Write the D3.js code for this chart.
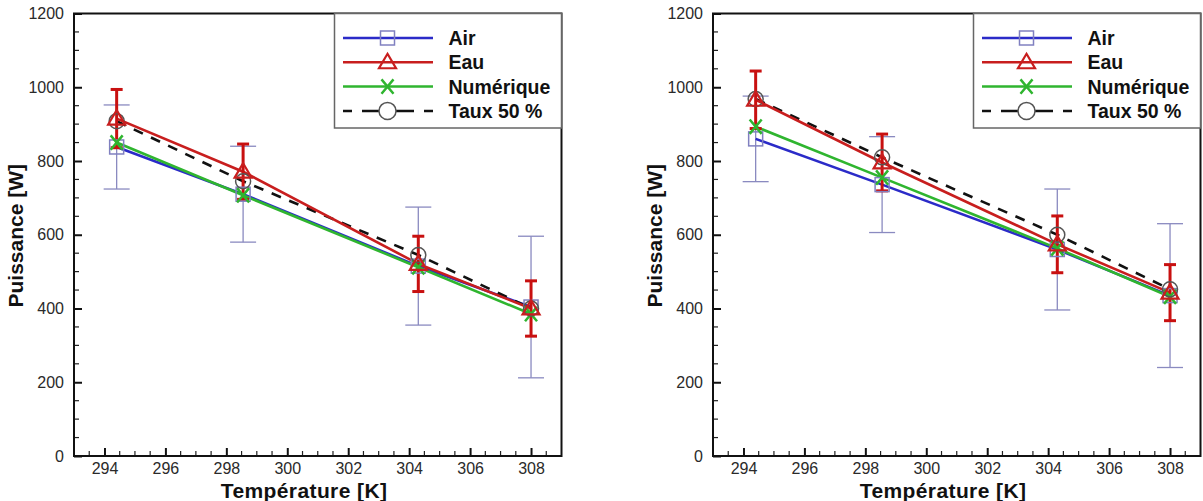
<!DOCTYPE html>
<html><head><meta charset="utf-8">
<script src="https://cdn.jsdelivr.net/npm/d3@7/dist/d3.min.js"></script>
<style>
html,body{margin:0;padding:0;background:#fff;}
svg{display:block;font-family:"Liberation Sans",Arial,sans-serif;}
</style></head>
<body><svg id="c" width="1203" height="501"></svg>
<script>
// ---- data ----
const temps = [294.4, 298.55, 304.3, 308.0];
const seriesNames = ["Air", "Eau", "Numérique", "Taux 50 %"];
const xTicks = [294, 296, 298, 300, 302, 304, 306, 308];
const yTicks = [0, 200, 400, 600, 800, 1000, 1200];

// left panel
const airL  = [838, 710, 515, 404];
const airErrL = [114, 130, 160, 192];
const eauL  = [915, 771, 521, 400];
const eauErrL = [79, 75, 75, 75];
const numL  = [850, 707, 512, 385];
const tauxL = [908, 745, 545, 400];

// right panel
const airR  = [860, 736, 560, 435];
const airErrR = [116, 130, 164, 195];
const eauR  = [966, 796, 574, 443];
const eauErrR = [78, 77, 77, 76];
const numR  = [893, 755, 563, 432];
const tauxR = [968, 810, 600, 452];

const svg = d3.select("#c");
svg.append("rect").attr("width",1203).attr("height",501).attr("fill","#fff");

const COL = {air:"#2b2bc8", airMk:"#8080c0", eau:"#c81e1e", num:"#2fb52f", taux:"#111", tauxMk:"#555"};

function panel(left, air, airErr, eau, eauErr, num, taux){
  const top = 13.5, width = 487.5, height = 442.5;
  const g = svg.append("g").attr("transform", `translate(${left},${top})`);
  const x = d3.scaleLinear().domain([293, 309]).range([0, width]);
  const y = d3.scaleLinear().domain([0, 1200]).range([height, 0]);

  // minor ticks
  const xMinor = d3.range(293.5, 309, 0.5).filter(v => Math.abs(v/2 - Math.round(v/2)) > 1e-6);
  const yMinor = d3.range(50, 1200, 50).filter(v => v % 200 !== 0);
  g.append("g").selectAll("line").data(xMinor).join("line")
    .attr("x1", d=>x(d)).attr("x2", d=>x(d)).attr("y1", height).attr("y2", height-5)
    .attr("stroke","#222").attr("stroke-width",1.2);
  g.append("g").selectAll("line").data(yMinor).join("line")
    .attr("x1", 0).attr("x2", 5).attr("y1", d=>y(d)).attr("y2", d=>y(d))
    .attr("stroke","#222").attr("stroke-width",1.2);

  // axes
  const xAxis = d3.axisBottom(x).tickValues(xTicks).tickFormat(d3.format("d")).tickSizeInner(-8).tickSizeOuter(0).tickPadding(7);
  const yAxis = d3.axisLeft(y).tickValues(yTicks).tickFormat(d3.format("d")).tickSizeInner(-8).tickSizeOuter(0).tickPadding(10);
  const gx = g.append("g").attr("transform", `translate(0,${height})`).call(xAxis);
  const gy = g.append("g").call(yAxis);
  [gx, gy].forEach(a => {
    a.select(".domain").remove();
    a.selectAll(".tick line").attr("stroke","#111").attr("stroke-width",2);
    a.selectAll(".tick text").attr("font-size",16).attr("fill","#2a2a2a")
      .attr("font-family",'"Liberation Sans",Arial,sans-serif');
  });
  gx.selectAll(".tick text").attr("dy","0.71em");

  // frame
  g.append("rect").attr("x",0).attr("y",0).attr("width",width).attr("height",height)
    .attr("fill","none").attr("stroke","#111").attr("stroke-width",2);

  // axis titles
  g.append("text").attr("x", x(300.55)).attr("y", height + 41.5)
    .attr("text-anchor","middle").attr("font-size",21).attr("font-weight","bold").attr("fill","#111")
    .attr("letter-spacing","0.4")
    .text("Température [K]");
  g.append("text").attr("transform", `translate(${-51},${y(600)+1}) rotate(-90)`)
    .attr("text-anchor","middle").attr("font-size",21).attr("font-weight","bold").attr("fill","#111")
    .text("Puissance [W]");

  const line = d3.line().x(d=>x(d[0])).y(d=>y(d[1]));
  const pts = arr => temps.map((t,i)=>[t, arr[i]]);

  const eb = (vals, errs, color, w, cap) => {
    const gg = g.append("g").attr("stroke", color).attr("stroke-width", w).attr("fill","none");
    temps.forEach((t,i)=>{
      const cx = x(t), y1 = y(vals[i]+errs[i]), y2 = y(vals[i]-errs[i]);
      gg.append("line").attr("x1",cx).attr("x2",cx).attr("y1",y1).attr("y2",y2);
      gg.append("line").attr("x1",cx-cap).attr("x2",cx+cap).attr("y1",y1).attr("y2",y1);
      gg.append("line").attr("x1",cx-cap).attr("x2",cx+cap).attr("y1",y2).attr("y2",y2);
    });
  };
  eb(air, airErr, "#8a8ac0", 1.3, 13);

  g.append("path").attr("d", line(pts(air))).attr("fill","none").attr("stroke",COL.air).attr("stroke-width",2.6);
  g.append("path").attr("d", line(pts(num))).attr("fill","none").attr("stroke",COL.num).attr("stroke-width",2.6);
  g.append("path").attr("d", line(pts(taux))).attr("fill","none").attr("stroke",COL.taux).attr("stroke-width",2.6).attr("stroke-dasharray","10,9");
  g.append("path").attr("d", line(pts(eau))).attr("fill","none").attr("stroke",COL.eau).attr("stroke-width",2.6);

  eb(eau, eauErr, "#c81010", 3, 6);

  // markers
  const mk = g.append("g").attr("fill","none");
  temps.forEach((t,i)=>{
    drawMarker(mk, "square", x(t), y(air[i]), false);
    drawMarker(mk, "x", x(t), y(num[i]), false);
    drawMarker(mk, "circle", x(t), y(taux[i]), false);
    drawMarker(mk, "triangle", x(t), y(eau[i]), false);
  });

  // legend
  const lw = 227, lh = 114.5;
  const lg = g.append("g").attr("transform", `translate(${width-lw},0)`);
  lg.append("rect").attr("x",0).attr("y",0).attr("width",lw).attr("height",lh)
    .attr("fill","#fff").attr("stroke","#666").attr("stroke-width",1.5);
  const keys = [
    {name: seriesNames[0], color: COL.air, m:"square", dash:null},
    {name: seriesNames[1], color: COL.eau, m:"triangle", dash:null},
    {name: seriesNames[2], color: COL.num, m:"x", dash:null},
    {name: seriesNames[3], color: COL.taux, m:"circle", dash:"9,10,52,10,9"}
  ];
  keys.forEach((k,i)=>{
    const ry = 24.5 + i*24.3;
    lg.append("line").attr("x1",8.5).attr("x2",98.5).attr("y1",ry).attr("y2",ry)
      .attr("stroke",k.color).attr("stroke-width",2.5).attr("stroke-dasharray",k.dash);
    drawMarker(lg, k.m, 53, ry, true);
    lg.append("text").attr("x",114).attr("y",ry).attr("dy","0.36em")
      .attr("font-size",19.5).attr("font-weight","bold").attr("fill","#111").text(k.name);
  });
}

function drawMarker(g, type, cx, cy, legend){
  if(type==="square"){
    g.append("rect").attr("x",cx-7).attr("y",cy-7).attr("width",14).attr("height",14)
      .attr("fill","none").attr("stroke",COL.airMk).attr("stroke-width",1.5);
  } else if(type==="triangle"){
    const s = 8.5;
    g.append("path").attr("d", `M${cx},${cy-s} L${cx+s},${cy+s*0.7} L${cx-s},${cy+s*0.7} Z`)
      .attr("fill","none").attr("stroke",COL.eau).attr("stroke-width",2.2);
  } else if(type==="x"){
    const s = 6;
    g.append("path").attr("d", `M${cx-s},${cy-s*1.2} L${cx+s},${cy+s*1.2} M${cx+s},${cy-s*1.2} L${cx-s},${cy+s*1.2}`)
      .attr("stroke",COL.num).attr("stroke-width",2.5).attr("fill","none");
  } else if(type==="circle"){
    g.append("circle").attr("cx",cx).attr("cy",cy).attr("r",legend?8.5:7.5)
      .attr("fill",legend?"#fff":"none").attr("stroke",COL.tauxMk).attr("stroke-width",1.5);
  }
}

panel(74, airL, airErrL, eauL, eauErrL, numL, tauxL);
panel(713, airR, airErrR, eauR, eauErrR, numR, tauxR);
</script></body></html>
